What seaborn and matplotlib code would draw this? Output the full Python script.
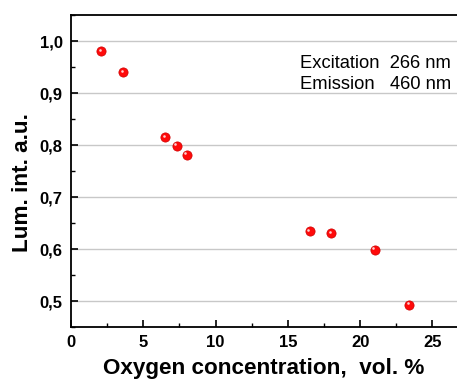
import matplotlib
matplotlib.use("Agg")
import matplotlib.pyplot as plt
import matplotlib.transforms as mtransforms
from matplotlib.ticker import MultipleLocator, FixedLocator
import seaborn as sns
import pandas as pd

oxygen = [2.1, 3.6, 6.5, 7.3, 8.0, 16.5, 18.0, 21.0, 23.4]
lum = [0.981, 0.941, 0.815, 0.799, 0.782, 0.634, 0.630, 0.599, 0.493]
xticks = [0, 5, 10, 15, 20, 25]
yticks = [0.5, 0.6, 0.7, 0.8, 0.9, 1.0]
ytick_labels = ["0,5", "0,6", "0,7", "0,8", "0,9", "1,0"]
annot_lines = ["Excitation  266 nm", "Emission   460 nm"]

df = pd.DataFrame({"x": oxygen, "y": lum})

sns.set_style("white")
plt.rcParams["font.family"] = ["Liberation Sans", "DejaVu Sans"]
plt.rcParams.update({"text.color": "black", "axes.labelcolor": "black",
                     "xtick.color": "black", "ytick.color": "black"})

fig = plt.figure(figsize=(4.57, 3.85), dpi=100)
ax = fig.add_axes([71 / 457, 1 - 327 / 385, (457 - 71) / 457, (327 - 15) / 385])

ax.set_xlim(0, 26.7)
ax.set_ylim(0.45, 1.0505)

for yv in yticks:
    ax.axhline(yv, color="#c8c8c8", lw=1.0, zorder=0)

sns.scatterplot(data=df, x="x", y="y", ax=ax, s=44, color="#ff0a0a",
                edgecolor="#cc0000", linewidth=0.5, zorder=3)
# small highlight on each sphere
off = mtransforms.offset_copy(ax.transData, fig=fig, x=-1.0, y=1.0, units="points")
ax.scatter(df["x"], df["y"], s=3.5, color="#ffd0d0", linewidth=0, transform=off, zorder=4)

ax.xaxis.set_major_locator(FixedLocator(xticks))
ax.xaxis.set_minor_locator(MultipleLocator(2.5))
ax.yaxis.set_major_locator(FixedLocator(yticks))
ax.set_yticklabels(ytick_labels)
ax.yaxis.set_minor_locator(MultipleLocator(0.05))

ax.tick_params(axis="both", which="major", direction="in", length=5, width=1.2,
               labelsize=12, pad=6, bottom=True, left=True, top=False, right=False)
ax.tick_params(axis="both", which="minor", direction="in", length=3, width=1.0,
               bottom=True, left=True, top=False, right=False)
for lab in ax.get_xticklabels() + ax.get_yticklabels():
    lab.set_fontweight("bold")

for side in ["left", "bottom", "top"]:
    ax.spines[side].set_visible(True)
    ax.spines[side].set_color("black")
    ax.spines[side].set_linewidth(1.3)
ax.spines["right"].set_visible(False)

ax.set_xlabel("Oxygen concentration,  vol. %", fontsize=16.2, fontweight="bold", labelpad=5.5)
ax.set_ylabel("Lum. int. a.u.", fontsize=16.2, fontweight="bold")
ax.yaxis.set_label_coords(-0.098, 0.4615)

ax.text(0.593, 0.75, "\n".join(annot_lines), transform=ax.transAxes, fontsize=13.2,
        ha="left", va="bottom", linespacing=1.32)

fig.savefig("out.png", dpi=100)
